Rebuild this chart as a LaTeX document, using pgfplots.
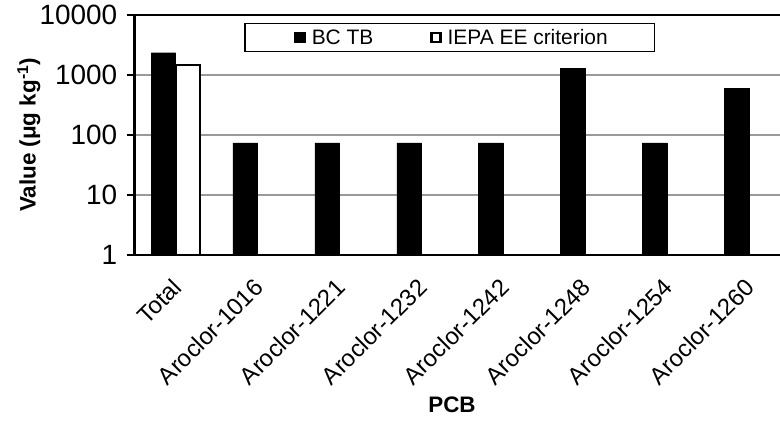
\documentclass[border=0pt]{standalone}
\usepackage{fontspec}
\setmainfont{Liberation Sans}
\setsansfont{Liberation Sans}
\usepackage{pgfplots}
\pgfplotsset{compat=1.18}
\begin{document}
\begin{tikzpicture}
\path[use as bounding box] (-134.7bp,-171bp) rectangle (645.3bp,255bp);
\begin{axis}[
  scale only axis, width=645.3bp, height=240bp,
  at={(0,0)}, anchor=south west,
  ymode=log, ymin=1, ymax=10000,
  xmin=-0.5, xmax=7.38,
  ybar=0pt, bar width=0.3,
  axis x line*=box, axis y line*=left,
  axis line style={line width=2.5bp, black},
  tick align=outside,
  major tick length=8bp,
  ytick pos=left,
  ytick={1,10,100,1000,10000},
  yticklabels={1,10,100,1000,10000},
  yminorticks=false,
  ytick style={line width=1.5bp, black},
  yticklabel style={xshift=-6bp, font=\fontsize{28}{31}\selectfont},
  ymajorgrids,
  grid style={line width=1.5bp, color=black!40},
  xtick={0,...,7},
  xticklabels={Total,Aroclor-1016,Aroclor-1221,Aroclor-1232,Aroclor-1242,Aroclor-1248,Aroclor-1254,Aroclor-1260},
  xtick style={draw=none},
  extra x ticks={-0.5,0.5,...,6.5},
  extra x tick labels={},
  extra x tick style={tick style={draw=black, line width=1.5bp}, xtick pos=bottom},
  xticklabel style={xshift=-5bp, yshift=-11bp, rotate=45, anchor=north east, inner sep=2bp, font=\fontsize{24}{27}\selectfont},
  /pgf/number format/assume math mode=true,
  ylabel={\textbf{Value (μg kg\textsuperscript{-1})}},
  every axis y label/.style={at={(axis description cs:-0.164,0.5)}, rotate=90, anchor=center, font=\fontsize{22.5}{26}\selectfont},
  xlabel={\textbf{PCB}},
  every axis x label/.style={at={(axis description cs:0.4917,-0.625)}, anchor=center, font=\fontsize{22.5}{26}\selectfont},
  legend style={at={(rel axis cs:0.1694,0.9667)}, anchor=north west, draw=black, line width=1.5bp,
    inner xsep=45bp, inner ysep=3.5bp, font=\fontsize{21}{24}\selectfont,
    /tikz/every even column/.append style={column sep=50bp}},
  legend columns=2,
  legend image code/.code={\path (-5bp,0) (13.5bp,0); \draw[#1, line width=2.5bp] (0bp,-4.5bp) rectangle (9bp,4.5bp);},
]
\addplot[fill=black, draw=black] coordinates {(0,2350)(1,74)(2,74)(3,74)(4,74)(5,1290)(6,74)(7,600)};
\addlegendentry{BC TB}
\addplot[fill=white, draw=black, line width=1.8bp] coordinates {(0,1450)};
\addlegendentry{IEPA EE criterion}
\end{axis}
\end{tikzpicture}
\end{document}
